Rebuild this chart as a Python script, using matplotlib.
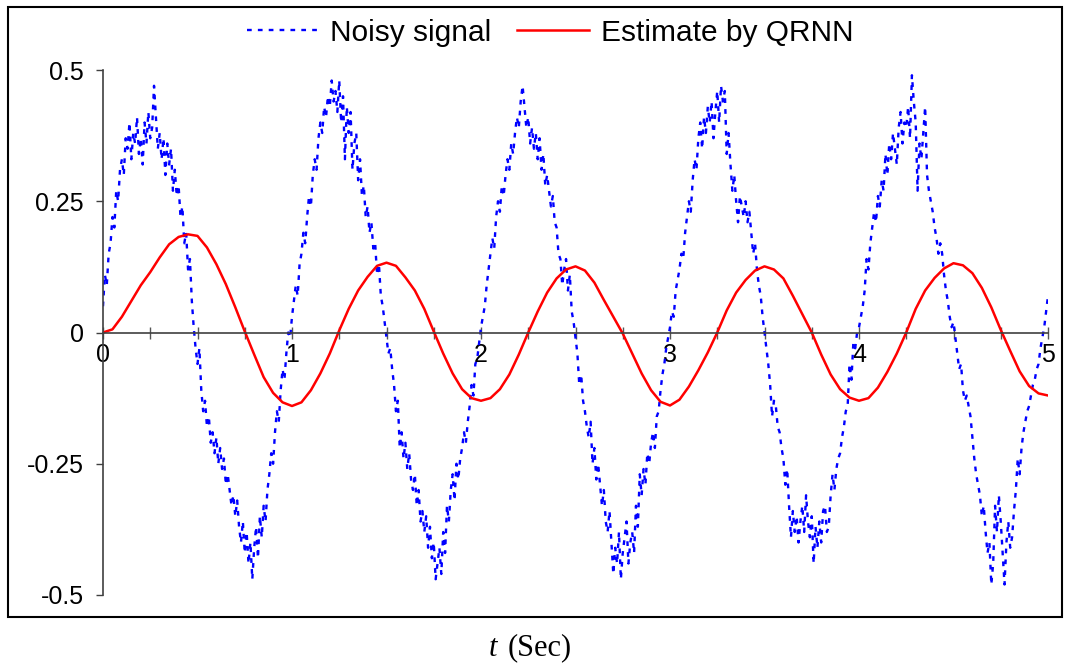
import numpy as np
import matplotlib
matplotlib.use('Agg')
import matplotlib.pyplot as plt
from matplotlib.patches import Rectangle

# time axis, 0.01 s steps for the noisy signal, 0.05 s for the estimate
t_noisy = np.arange(0, 501) / 100.0
t_est = np.arange(0, 101) / 20.0

noisy = [
	0.05, 0.11, 0.09, 0.15, 0.17, 0.22, 0.20, 0.27, 0.25, 0.31,
	0.33, 0.30, 0.37, 0.35, 0.40, 0.33, 0.38, 0.36, 0.41, 0.34,
	0.37, 0.32, 0.40, 0.36, 0.42, 0.37, 0.39, 0.47, 0.41, 0.35,
	0.38, 0.33, 0.37, 0.30, 0.36, 0.32, 0.35, 0.27, 0.31, 0.26,
	0.28, 0.22, 0.24, 0.17, 0.19, 0.12, 0.14, 0.06, 0.01, -0.03,
	-0.06, -0.03, -0.11, -0.15, -0.13, -0.18, -0.16, -0.21, -0.19, -0.23,
	-0.20, -0.25, -0.22, -0.26, -0.24, -0.29, -0.27, -0.30, -0.33, -0.31,
	-0.35, -0.32, -0.37, -0.40, -0.36, -0.42, -0.38, -0.44, -0.40, -0.47,
	-0.41, -0.37, -0.43, -0.35, -0.39, -0.33, -0.36, -0.30, -0.27, -0.23,
	-0.25, -0.19, -0.15, -0.17, -0.11, -0.07, -0.09, -0.04, 0.00, -0.01,
	0.03, 0.06, 0.09, 0.07, 0.13, 0.15, 0.19, 0.17, 0.22, 0.26,
	0.24, 0.30, 0.33, 0.31, 0.37, 0.40, 0.38, 0.43, 0.41, 0.45,
	0.43, 0.48, 0.44, 0.46, 0.42, 0.48, 0.40, 0.45, 0.33, 0.43,
	0.38, 0.42, 0.31, 0.36, 0.38, 0.29, 0.33, 0.26, 0.28, 0.22,
	0.24, 0.19, 0.21, 0.16, 0.17, 0.11, 0.13, 0.07, 0.05, 0.02,
	-0.01, -0.04, -0.03, -0.07, -0.10, -0.15, -0.13, -0.22, -0.19, -0.24,
	-0.21, -0.26, -0.23, -0.28, -0.30, -0.27, -0.33, -0.30, -0.36, -0.34,
	-0.38, -0.35, -0.41, -0.37, -0.43, -0.40, -0.47, -0.44, -0.41, -0.46,
	-0.38, -0.42, -0.33, -0.36, -0.30, -0.27, -0.32, -0.25, -0.28, -0.24,
	-0.22, -0.19, -0.21, -0.17, -0.14, -0.10, -0.12, -0.06, -0.05, -0.02,
	0.01, 0.03, 0.05, 0.09, 0.12, 0.15, 0.18, 0.16, 0.22, 0.25,
	0.23, 0.28, 0.26, 0.30, 0.33, 0.31, 0.36, 0.34, 0.38, 0.41,
	0.39, 0.44, 0.47, 0.43, 0.39, 0.41, 0.36, 0.39, 0.35, 0.38,
	0.33, 0.37, 0.31, 0.34, 0.28, 0.30, 0.27, 0.24, 0.26, 0.21,
	0.20, 0.15, 0.14, 0.09, 0.12, 0.14, 0.08, 0.11, 0.04, 0.02,
	-0.01, -0.04, -0.10, -0.08, -0.13, -0.15, -0.18, -0.20, -0.17, -0.25,
	-0.22, -0.28, -0.25, -0.29, -0.33, -0.30, -0.36, -0.38, -0.34, -0.40,
	-0.46, -0.41, -0.44, -0.38, -0.47, -0.42, -0.39, -0.36, -0.44, -0.40,
	-0.38, -0.42, -0.33, -0.37, -0.27, -0.31, -0.26, -0.29, -0.23, -0.25,
	-0.21, -0.19, -0.22, -0.16, -0.15, -0.11, -0.08, -0.06, -0.03, -0.01,
	0.01, 0.04, 0.03, 0.08, 0.10, 0.12, 0.15, 0.14, 0.19, 0.22,
	0.25, 0.23, 0.29, 0.33, 0.31, 0.37, 0.40, 0.35, 0.41, 0.38,
	0.43, 0.40, 0.44, 0.37, 0.42, 0.46, 0.40, 0.47, 0.44, 0.46,
	0.34, 0.38, 0.32, 0.27, 0.30, 0.25, 0.21, 0.26, 0.24, 0.22,
	0.25, 0.21, 0.23, 0.19, 0.15, 0.17, 0.12, 0.09, 0.07, 0.03,
	0.00, -0.03, -0.06, -0.10, -0.16, -0.13, -0.14, -0.18, -0.19, -0.22,
	-0.24, -0.29, -0.26, -0.33, -0.39, -0.34, -0.38, -0.35, -0.40, -0.36,
	-0.33, -0.38, -0.31, -0.36, -0.39, -0.35, -0.44, -0.37, -0.41, -0.36,
	-0.40, -0.34, -0.33, -0.38, -0.37, -0.31, -0.27, -0.30, -0.26, -0.24,
	-0.23, -0.20, -0.18, -0.15, -0.14, -0.06, -0.09, -0.02, -0.03, 0.00,
	0.01, 0.03, 0.05, 0.08, 0.14, 0.12, 0.17, 0.20, 0.23, 0.21,
	0.26, 0.24, 0.29, 0.27, 0.34, 0.30, 0.36, 0.33, 0.38, 0.35,
	0.32, 0.39, 0.42, 0.36, 0.40, 0.39, 0.43, 0.37, 0.49, 0.44,
	0.40, 0.27, 0.36, 0.33, 0.38, 0.43, 0.30, 0.27, 0.25, 0.23,
	0.20, 0.18, 0.15, 0.17, 0.15, 0.11, 0.08, 0.06, 0.03, 0.01,
	0.02, -0.01, -0.04, -0.07, -0.06, -0.11, -0.13, -0.12, -0.14, -0.16,
	-0.20, -0.24, -0.27, -0.29, -0.31, -0.35, -0.33, -0.38, -0.42, -0.40,
	-0.48, -0.44, -0.33, -0.38, -0.31, -0.36, -0.42, -0.48, -0.40, -0.36,
	-0.41, -0.39, -0.34, -0.30, -0.24, -0.27, -0.22, -0.19, -0.17, -0.15,
	-0.14, -0.12, -0.10, -0.09, -0.07, -0.06, -0.03, -0.01, 0.01, 0.04,
	0.07,
]

estimate = [
	0.000, 0.006, 0.030, 0.060, 0.090, 0.115, 0.143, 0.168, 0.182, 0.187,
	0.184, 0.162, 0.130, 0.092, 0.048, 0.002, -0.042, -0.085, -0.115, -0.133,
	-0.140, -0.133, -0.110, -0.078, -0.040, 0.004, 0.045, 0.080, 0.106, 0.127,
	0.133, 0.127, 0.105, 0.080, 0.045, 0.002, -0.040, -0.078, -0.108, -0.125,
	-0.130, -0.125, -0.108, -0.080, -0.042, 0.000, 0.040, 0.076, 0.103, 0.120,
	0.126, 0.118, 0.095, 0.062, 0.030, -0.002, -0.040, -0.078, -0.110, -0.132,
	-0.139, -0.128, -0.103, -0.072, -0.038, 0.000, 0.042, 0.076, 0.100, 0.118,
	0.126, 0.120, 0.103, 0.070, 0.035, 0.000, -0.042, -0.080, -0.108, -0.124,
	-0.130, -0.125, -0.105, -0.075, -0.040, 0.000, 0.045, 0.080, 0.104, 0.122,
	0.132, 0.128, 0.113, 0.085, 0.048, 0.005, -0.035, -0.074, -0.102, -0.116,
	-0.120,
]

y_ticks = [-0.5, -0.25, 0, 0.25, 0.5]
y_labels = ['-0.5', '-0.25', '0', '0.25', '0.5']
x_label_ticks = [0, 1, 2, 3, 4, 5]

def main():
	plt.rcParams['font.family'] = ['Liberation Sans', 'DejaVu Sans']

	fig = plt.figure(figsize=(10.7, 6.67), dpi=100)
	ax = fig.add_axes([103 / 1070, 1 - 595 / 667, 945 / 1070, 525 / 667])

	ax.plot(t_noisy, noisy, color='#0000ff', lw=1.7, linestyle=(0, (2.0, 2.6)), label='Noisy signal')
	ax.plot(t_est, estimate, color='#ff0000', lw=1.8, label='Estimate by QRNN')

	ax.set_xlim(0, 5)
	ax.set_ylim(-0.5, 0.5)

	# x axis sits on y = 0, y axis on the left only
	ax.spines['top'].set_visible(False)
	ax.spines['right'].set_visible(False)
	ax.spines['bottom'].set_position(('data', 0))
	for s in ['bottom', 'left']:
		ax.spines[s].set_color('#404040')
		ax.spines[s].set_linewidth(1.2)

	xt = np.arange(0, 21) * 0.25
	ax.set_xticks(xt)
	ax.set_xticklabels([str(int(v)) if v in x_label_ticks else '' for v in xt])
	ax.tick_params(axis='x', direction='inout', length=9, width=1, color='#555555', pad=3, labelsize=18)

	ax.set_yticks(y_ticks)
	ax.set_yticklabels(y_labels)
	ax.tick_params(axis='y', direction='out', length=5, width=1, color='#404040', pad=9, labelsize=18)

	fig.legend(loc='center', bbox_to_anchor=(0.514, 0.951), ncol=2, frameon=False,
		fontsize=21.5, handlelength=2.4, handletextpad=0.4, columnspacing=0.85)

	# outer box around plot and legend
	fig.patches.append(Rectangle((8 / 1070, 1 - 617 / 667), 1054 / 1070, 610 / 667,
		transform=fig.transFigure, fill=False, edgecolor='black', lw=1.5))

	fig.text(493 / 1070, 1 - 648 / 667, 't', family='Liberation Serif', style='italic',
		fontsize=22, ha='center', va='center')
	fig.text(508 / 1070, 1 - 648 / 667, '(Sec)', family='Liberation Serif',
		fontsize=22, ha='left', va='center')

	fig.savefig('out.png', dpi=100)


if __name__ == '__main__':
	main()
